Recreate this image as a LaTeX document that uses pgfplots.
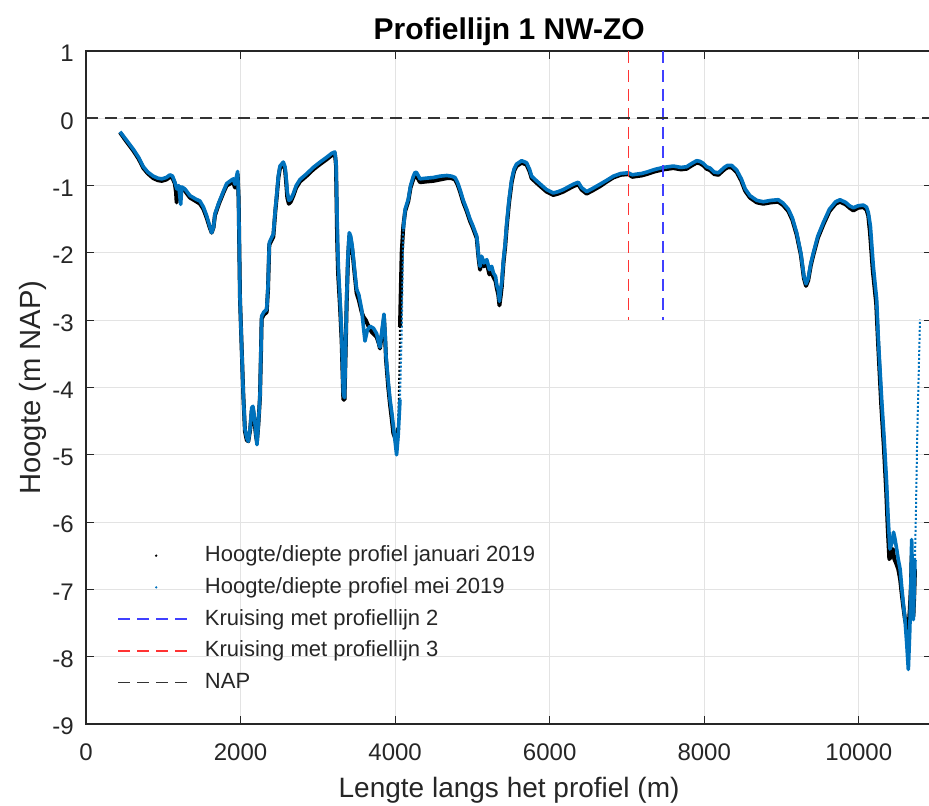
\documentclass[border=0pt]{standalone}
\usepackage{pgfplots}
\pgfplotsset{compat=1.18}
\usepackage{pgfplotstable}
\usepackage{fontspec}
\setmainfont{Liberation Sans}
\usetikzlibrary{calc}

\definecolor{mblue}{rgb}{0,0.447,0.741}
\definecolor{axgray}{gray}{0.15}
\definecolor{kblue}{rgb}{0.25,0.25,1}
\definecolor{kred}{rgb}{1,0.2,0.2}

\pgfplotsset{
  dotleg/.style={legend image code/.code={\path[draw=none] (0pt,0pt) -- (36.5pt,0pt); \fill[#1, draw=none] (19pt,0pt) circle (0.65pt);}},
  dashleg/.style={legend image code/.code={\draw[##1] (0pt,0pt) -- (36.5pt,0pt);}},
}

% profiel januari 2019 (zwart)
\pgfplotstableread{
x y
440 -0.21
520 -0.34
612 -0.48
680 -0.60
742 -0.74
800 -0.82
871 -0.89
930 -0.92
980 -0.93
1040 -0.91
1087 -0.87
1120 -0.89
1150 -0.97
1165 -1.10
1173 -1.25
1185 -1.02
1200 -1.02
1240 -1.04
1280 -1.08
1346 -1.18
1420 -1.23
1475 -1.27
1520 -1.35
1562 -1.48
1600 -1.62
1626 -1.70
1650 -1.62
1669 -1.44
1720 -1.27
1780 -1.10
1820 -1.00
1880 -0.96
1906 -0.95
1928 -1.03
1945 -0.93
1962 -0.83
1975 -1.20
1993 -2.69
2015 -3.43
2035 -4.10
2057 -4.65
2080 -4.78
2100 -4.80
2125 -4.62
2145 -4.35
2160 -4.32
2180 -4.50
2200 -4.72
2212 -4.80
2230 -4.55
2251 -4.15
2265 -3.45
2273 -2.98
2300 -2.92
2338 -2.88
2355 -2.55
2372 -1.88
2390 -1.84
2424 -1.76
2450 -1.38
2467 -1.18
2490 -0.88
2510 -0.74
2553 -0.68
2575 -0.76
2588 -0.92
2605 -1.18
2625 -1.27
2650 -1.24
2683 -1.15
2720 -1.03
2769 -0.94
2850 -0.86
2941 -0.76
3030 -0.68
3114 -0.61
3180 -0.55
3220 -0.52
3235 -0.70
3250 -1.80
3262 -2.30
3287 -2.80
3308 -3.30
3330 -4.18
3345 -4.18
3360 -3.45
3373 -2.75
3390 -2.10
3407 -1.75
3425 -1.80
3445 -1.95
3475 -2.30
3502 -2.60
3530 -2.70
3567 -2.88
3590 -2.95
3620 -3.00
3660 -3.10
3700 -3.18
3761 -3.25
3790 -3.35
3804 -3.42
3830 -3.20
3856 -2.98
3870 -3.25
3882 -3.58
3910 -3.98
3934 -4.25
3960 -4.50
3977 -4.68
4000 -4.75
4019 -4.85
4040 -4.60
4058 -3.60
4063 -3.10
4085 -2.00
4106 -1.60
4130 -1.38
4171 -1.23
4200 -1.03
4236 -0.90
4260 -0.85
4279 -0.86
4322 -0.95
4400 -0.94
4495 -0.93
4580 -0.91
4668 -0.89
4730 -0.89
4775 -0.91
4810 -0.99
4840 -1.09
4882 -1.25
4926 -1.38
4970 -1.53
5000 -1.61
5056 -1.78
5080 -2.08
5099 -2.25
5120 -2.10
5150 -2.20
5186 -2.15
5220 -2.32
5250 -2.28
5272 -2.36
5300 -2.42
5315 -2.52
5335 -2.62
5350 -2.78
5365 -2.65
5380 -2.50
5402 -2.15
5425 -1.90
5445 -1.60
5475 -1.25
5508 -0.95
5540 -0.78
5572 -0.71
5637 -0.66
5701 -0.69
5740 -0.79
5766 -0.89
5831 -0.96
5900 -1.03
5960 -1.09
6046 -1.14
6110 -1.12
6176 -1.09
6240 -1.05
6305 -1.01
6370 -0.98
6413 -1.06
6478 -1.12
6560 -1.07
6651 -1.01
6740 -0.94
6824 -0.88
6920 -0.84
7016 -0.83
7070 -0.87
7125 -0.86
7190 -0.85
7254 -0.83
7360 -0.79
7470 -0.76
7600 -0.74
7700 -0.76
7772 -0.75
7840 -0.70
7902 -0.66
7945 -0.67
7988 -0.70
8030 -0.75
8075 -0.77
8130 -0.83
8183 -0.84
8260 -0.76
8300 -0.73
8355 -0.73
8420 -0.80
8480 -0.93
8530 -1.08
8592 -1.18
8680 -1.25
8765 -1.27
8860 -1.25
8958 -1.24
9020 -1.29
9088 -1.38
9140 -1.51
9196 -1.73
9250 -2.03
9290 -2.38
9317 -2.49
9345 -2.41
9380 -2.18
9412 -2.03
9470 -1.78
9541 -1.58
9620 -1.38
9700 -1.27
9757 -1.24
9830 -1.28
9880 -1.33
9930 -1.37
9990 -1.33
10059 -1.32
10100 -1.36
10123 -1.45
10145 -1.70
10180 -2.25
10225 -2.75
10250 -3.35
10290 -4.25
10325 -4.90
10355 -5.55
10375 -6.10
10395 -6.55
10420 -6.50
10440 -6.40
10460 -6.55
10480 -6.60
10511 -6.70
10535 -6.85
10554 -7.05
10575 -7.25
10598 -7.45
10620 -7.55
10641 -7.60
10660 -7.30
10675 -6.95
10684 -6.50
10695 -6.95
10706 -7.40
10717 -7.10
10727 -6.70
}\jan

% profiel mei 2019 (blauw)
\pgfplotstableread{
x y
440 -0.20
520 -0.32
612 -0.46
680 -0.58
742 -0.72
800 -0.80
871 -0.86
930 -0.89
980 -0.90
1040 -0.88
1087 -0.84
1120 -0.86
1150 -0.95
1175 -1.05
1200 -1.00
1225 -1.28
1240 -1.02
1280 -1.05
1346 -1.15
1420 -1.20
1475 -1.23
1520 -1.32
1562 -1.45
1600 -1.60
1626 -1.70
1650 -1.62
1669 -1.42
1720 -1.25
1780 -1.08
1820 -0.97
1880 -0.92
1906 -0.90
1928 -0.98
1945 -0.88
1962 -0.79
1975 -1.20
1993 -2.69
2015 -3.43
2035 -4.10
2057 -4.62
2080 -4.75
2100 -4.80
2125 -4.60
2145 -4.30
2160 -4.28
2180 -4.45
2200 -4.70
2212 -4.85
2230 -4.55
2251 -4.13
2265 -3.40
2273 -2.94
2300 -2.88
2338 -2.84
2355 -2.50
2372 -1.85
2390 -1.80
2424 -1.72
2450 -1.35
2467 -1.15
2490 -0.85
2510 -0.71
2553 -0.65
2575 -0.72
2588 -0.86
2605 -1.10
2625 -1.22
2650 -1.20
2683 -1.12
2720 -1.00
2769 -0.91
2850 -0.83
2941 -0.73
3030 -0.65
3114 -0.58
3180 -0.52
3220 -0.50
3235 -0.65
3255 -1.80
3265 -2.20
3287 -2.69
3308 -3.20
3330 -4.10
3345 -4.15
3360 -3.40
3373 -2.69
3390 -2.05
3407 -1.70
3425 -1.75
3445 -1.90
3475 -2.25
3502 -2.54
3530 -2.62
3567 -2.84
3590 -3.10
3610 -3.31
3640 -3.15
3675 -3.09
3720 -3.12
3761 -3.20
3790 -3.35
3804 -3.40
3830 -3.15
3856 -2.91
3870 -3.20
3882 -3.53
3910 -3.90
3934 -4.18
3960 -4.40
3977 -4.57
4000 -4.80
4019 -5.00
4040 -4.70
4063 -4.18
4085 -3.19
4106 -1.65
4130 -1.35
4171 -1.20
4200 -1.00
4236 -0.86
4260 -0.80
4279 -0.81
4322 -0.90
4400 -0.89
4495 -0.88
4580 -0.86
4668 -0.85
4730 -0.86
4775 -0.88
4810 -0.96
4840 -1.06
4882 -1.22
4926 -1.35
4970 -1.50
5000 -1.58
5056 -1.75
5080 -2.05
5099 -2.20
5120 -2.05
5150 -2.15
5186 -2.10
5220 -2.25
5250 -2.20
5272 -2.30
5300 -2.35
5315 -2.48
5335 -2.55
5350 -2.72
5365 -2.55
5380 -2.44
5402 -2.10
5425 -1.85
5445 -1.55
5475 -1.20
5508 -0.91
5540 -0.75
5572 -0.68
5637 -0.63
5701 -0.66
5740 -0.76
5766 -0.86
5831 -0.93
5900 -1.00
5960 -1.06
6046 -1.11
6110 -1.09
6176 -1.06
6240 -1.02
6305 -0.98
6370 -0.95
6413 -1.03
6478 -1.09
6560 -1.04
6651 -0.98
6740 -0.92
6824 -0.86
6920 -0.82
7016 -0.81
7070 -0.84
7125 -0.83
7190 -0.82
7254 -0.80
7360 -0.76
7470 -0.73
7600 -0.71
7700 -0.73
7772 -0.72
7840 -0.67
7902 -0.63
7945 -0.64
7988 -0.67
8030 -0.72
8075 -0.74
8130 -0.80
8183 -0.81
8260 -0.73
8300 -0.70
8355 -0.70
8420 -0.77
8480 -0.90
8530 -1.05
8592 -1.15
8680 -1.22
8765 -1.24
8860 -1.22
8958 -1.21
9020 -1.26
9088 -1.35
9140 -1.48
9196 -1.70
9250 -2.00
9290 -2.35
9317 -2.46
9345 -2.38
9380 -2.15
9412 -2.00
9470 -1.75
9541 -1.55
9620 -1.35
9700 -1.24
9757 -1.21
9830 -1.25
9880 -1.30
9930 -1.33
9990 -1.30
10059 -1.29
10100 -1.32
10123 -1.40
10150 -1.60
10188 -2.20
10231 -2.69
10253 -3.29
10296 -4.18
10330 -4.80
10360 -5.42
10380 -5.95
10403 -6.40
10430 -6.30
10450 -6.15
10468 -6.25
10490 -6.40
10511 -6.56
10535 -6.70
10554 -6.95
10575 -7.20
10598 -7.45
10620 -7.80
10641 -8.19
10660 -7.60
10675 -6.90
10684 -6.26
10695 -6.90
10706 -7.45
10717 -7.00
10727 -6.56
10740 -5.80
10757 -4.67
10775 -3.80
10792 -2.99
}\mei

\begin{document}
\begin{tikzpicture}
  % 1 px van de referentie = 0.5pt
  \path[use as bounding box] (-43pt,-41pt) rectangle (421.5pt,362pt);
  \begin{axis}[
      at={(0,0)}, anchor=south west,
      scale only axis,
      width=423.1pt, height=336.5pt,
      xmin=0, xmax=10950,
      ymin=-9, ymax=1,
      xtick={0,2000,...,10000},
      ytick={-9,-8,...,1},
      scaled x ticks=false,
      /pgf/number format/1000 sep={},
      /pgf/number format/assume math mode=true,
      tick label style={font=\fontsize{12}{14}\selectfont, text=axgray},
      xticklabel style={anchor=base, yshift=-18.2pt},
      yticklabel style={anchor=east, inner sep=0pt, xshift=-6pt, yshift=-1.3pt},
      major tick length=4pt,
      tick style={axgray, line width=0.5pt},
      axis line style={axgray, line width=0.6pt},
      grid=major,
      major grid style={gray!22, line width=0.4pt},
      title={Profiellijn 1 NW-ZO},
      title style={font=\fontsize{15}{17}\selectfont\bfseries, at={(0.5,1)}, anchor=base, yshift=-0.3pt},
      xlabel={Lengte langs het profiel (m)},
      ylabel={Hoogte (m NAP)},
      label style={text=axgray},
      xlabel style={font=\fontsize{14}{16}\selectfont, at={(rel axis cs:0.5,0)}, anchor=base, yshift=-36.5pt},
      ylabel style={font=\fontsize{14.6}{16}\selectfont, at={($(rel axis cs:0,0.5)+(-22.5pt,0)$)}, anchor=base},
      legend cell align=left,
      legend style={draw=none, fill=none, at={(axis cs:401,-6.285)}, anchor=north west,
        font=\fontsize{11}{13}\selectfont, row sep=1.85pt, column sep=5pt, inner sep=0pt,
        nodes={inner sep=1.5pt, text height=8.5pt, text depth=2.5pt, text=axgray}},
    ]
    % januari 2019
    \addplot[black, line width=2pt, line join=round, restrict x to domain=0:4040, dotleg=black]
      table {\jan};
    \addlegendentry{Hoogte/diepte profiel januari 2019}
    \addplot[black, line width=1pt, densely dotted, restrict x to domain=4040:4063, forget plot] table {\jan};
    \addplot[black, line width=2pt, line join=round, restrict x to domain=4063:10727, forget plot] table {\jan};
    % mei 2019
    \addplot[mblue, line width=1.8pt, line join=round, restrict x to domain=0:4063, dotleg=mblue]
      table {\mei};
    \addlegendentry{Hoogte/diepte profiel mei 2019}
    \addplot[mblue, line width=1pt, densely dotted, restrict x to domain=4063:4106, forget plot] table {\mei};
    \addplot[mblue, line width=1.8pt, line join=round, restrict x to domain=4106:10727, forget plot] table {\mei};
    \addplot[mblue, line width=1pt, densely dotted, restrict x to domain=10727:10800, forget plot] table {\mei};
    % kruisingen
    \addplot[kblue, line width=0.8pt, dash pattern=on 6pt off 3.5pt, dashleg]
      coordinates {(7470,1) (7470,-3)};
    \addlegendentry{Kruising met profiellijn 2}
    \addplot[kred, line width=0.8pt, dash pattern=on 6pt off 3.5pt, dashleg]
      coordinates {(7020,1) (7020,-3)};
    \addlegendentry{Kruising met profiellijn 3}
    % NAP
    \addplot[black!80, line width=0.8pt, dash pattern=on 6pt off 3.5pt, dashleg]
      coordinates {(0,0) (10950,0)};
    \addlegendentry{NAP}
  \end{axis}
\end{tikzpicture}
\end{document}
